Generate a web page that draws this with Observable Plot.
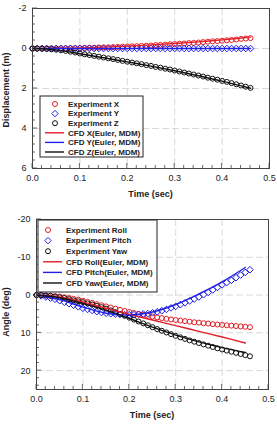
<!DOCTYPE html>
<html>
<head>
<meta charset="utf-8">
<script src="https://cdn.jsdelivr.net/npm/d3@7"></script>
<script src="https://cdn.jsdelivr.net/npm/@observablehq/plot@0.6"></script>
<style>
  body { margin: 0; background: #fff; width: 277px; height: 424px; overflow: hidden; }
  svg { display: block; }
</style>
</head>
<body>
<div id="displacement"></div>
<div id="angle"></div>
<script>
// Sample times of the measured motion (sec)
const timeExp = [
  0.00, 0.01, 0.02, 0.03, 0.04, 0.05, 0.06, 0.07, 0.08, 0.09,
  0.10, 0.11, 0.12, 0.13, 0.14, 0.15, 0.16, 0.17, 0.18, 0.19,
  0.20, 0.21, 0.22, 0.23, 0.24, 0.25, 0.26, 0.27, 0.28, 0.29,
  0.30, 0.31, 0.32, 0.33, 0.34, 0.35, 0.36, 0.37, 0.38, 0.39,
  0.40, 0.41, 0.42, 0.43, 0.44, 0.45, 0.46
];

// Measured displacement (m)
const expX = [
  0, 0, 0, 0, 0, -0.01, -0.01, -0.01, -0.02, -0.02,
  -0.02, -0.03, -0.04, -0.04, -0.05, -0.06, -0.06, -0.07, -0.08, -0.09,
  -0.10, -0.11, -0.12, -0.13, -0.14, -0.15, -0.17, -0.18, -0.19, -0.21,
  -0.22, -0.24, -0.25, -0.27, -0.28, -0.30, -0.32, -0.34, -0.36, -0.37,
  -0.39, -0.41, -0.43, -0.45, -0.48, -0.50, -0.52
];
const expY = [
  0, 0, 0, 0, 0, 0, 0, 0, 0, 0,
  0, 0, 0, 0, 0, 0, 0, 0, 0, 0,
  0, 0, 0, 0, 0, 0, 0, 0, 0, 0,
  0, 0, 0, 0, 0, 0, 0, 0, 0, 0,
  0, 0, 0, 0, 0, 0, 0
];
const expZ = [
  0, 0, 0.01, 0.02, 0.04, 0.06, 0.09, 0.12, 0.16, 0.20,
  0.25, 0.29, 0.33, 0.37, 0.41, 0.45, 0.49, 0.53, 0.57, 0.62,
  0.66, 0.70, 0.74, 0.78, 0.83, 0.87, 0.92, 0.96, 1.01, 1.05,
  1.10, 1.15, 1.20, 1.25, 1.30, 1.35, 1.40, 1.46, 1.51, 1.56,
  1.62, 1.67, 1.73, 1.79, 1.85, 1.91, 1.97
];

// CFD displacement (m)
const timeCfdDisp = [0, 0.05, 0.10, 0.15, 0.20, 0.25, 0.30, 0.35, 0.40, 0.46];
const cfdX = [0, -0.01, -0.03, -0.07, -0.12, -0.18, -0.25, -0.33, -0.43, -0.57];
const cfdY = [0, 0, 0, 0, 0, 0, 0, 0, 0, 0];
const cfdZ = [0, 0.07, 0.26, 0.46, 0.67, 0.88, 1.11, 1.36, 1.63, 1.99];

// Measured angles (deg)
const expRoll = [
  0, 0, 0.1, 0.2, 0.3, 0.4, 0.6, 0.8, 1.0, 1.2,
  1.5, 1.8, 2.1, 2.4, 2.7, 3.0, 3.3, 3.6, 3.9, 4.2,
  4.5, 4.75, 5.0, 5.25, 5.5, 5.7, 5.9, 6.1, 6.3, 6.45,
  6.6, 6.75, 6.9, 7.05, 7.2, 7.3, 7.45, 7.55, 7.7, 7.8,
  7.9, 8.0, 8.1, 8.2, 8.3, 8.4, 8.5
];
const expPitch = [
  0, 0.2, 0.5, 0.8, 1.1, 1.5, 1.9, 2.3, 2.7, 3.1,
  3.5, 3.8, 4.1, 4.4, 4.6, 4.8, 4.95, 5.05, 5.15, 5.2,
  5.2, 5.2, 5.1, 5.0, 4.9, 4.7, 4.45, 4.15, 3.8, 3.4,
  3.0, 2.55, 2.05, 1.55, 1.05, 0.5, -0.1, -0.7, -1.35, -2.0,
  -2.7, -3.3, -3.9, -4.6, -5.3, -6.0, -6.7
];
const expYaw = [
  0, 0, 0.1, 0.2, 0.4, 0.6, 0.8, 1.1, 1.4, 1.65,
  1.9, 2.2, 2.5, 2.85, 3.2, 3.6, 4.05, 4.5, 5.0, 5.5,
  6.0, 6.5, 7.0, 7.5, 8.0, 8.5, 9.0, 9.45, 9.9, 10.35,
  10.8, 11.2, 11.6, 12.0, 12.35, 12.7, 13.05, 13.4, 13.75, 14.1,
  14.4, 14.7, 15.0, 15.3, 15.6, 15.9, 16.2
];

// CFD angles (deg)
const timeCfdAngle = [0, 0.05, 0.10, 0.15, 0.20, 0.25, 0.30, 0.35, 0.40, 0.45];
const cfdRoll = [0, 0.5, 1.8, 3.5, 5.1, 6.6, 8.1, 9.6, 11.1, 12.7];
const cfdPitch = [0, 1.2, 3.2, 4.8, 5.3, 4.5, 2.5, -0.3, -3.5, -7.3];
const cfdYaw = [0, 0.7, 2.2, 4.0, 6.2, 8.5, 10.6, 12.4, 13.9, 15.2];

// Axis ticks
const timeTicks = [0, 0.1, 0.2, 0.3, 0.4, 0.5];
const dispTicks = [-2, 0, 2, 4, 6];
const angleTicks = [-20, -10, 0, 10, 20];

const RED = "#e41e26", BLUE = "#2020e6", BLACK = "#111";
const FONT = "Liberation Sans, Arial, sans-serif";

function rows(ts, vs) { return ts.map((t, i) => ({t, v: vs[i]})); }

function panel({el, yDomain, yTicks, yMinorStep, margin, exp, cfd, yTitle, yTitleY, xTitleY, legend}) {
  const W = 277, H = 212;
  const marks = [
    Plot.ruleX(timeTicks, {stroke: "#cfcfcf", strokeDasharray: "7,3", strokeWidth: 0.8}),
    Plot.ruleY(yTicks, {stroke: "#cfcfcf", strokeDasharray: "7,3", strokeWidth: 0.8}),
    Plot.axisX(timeTicks, {tickSize: 0, tickPadding: margin.xPad, tickFormat: d3.format(".1f"),
      fontSize: 9, fill: "#222", label: null}),
    Plot.axisY(yTicks, {tickSize: 0, tickPadding: margin.yPad, tickFormat: d => `${d}`,
      fontSize: 9, fill: "#222", label: null}),
  ];
  for (const s of exp) {
    marks.push(Plot.dot(rows(timeExp, s.values), {x: "t", y: "v", stroke: s.color, fill: "none",
      strokeWidth: 1, symbol: s.symbol, r: s.symbol === "circle" ? 2.5 : 3}));
  }
  for (const s of cfd) {
    marks.push(Plot.line(rows(s.time, s.values), {x: "t", y: "v", stroke: s.color,
      strokeWidth: 1.4, curve: "catmull-rom"}));
  }
  marks.push(Plot.frame({stroke: "#444", strokeWidth: 1}));

  const chart = Plot.plot({
    width: W, height: H,
    marginTop: margin.top, marginRight: margin.right, marginBottom: margin.bottom, marginLeft: margin.left,
    style: {fontFamily: FONT, background: "#fff"},
    x: {domain: [0, 0.5], axis: null},
    y: {domain: yDomain, axis: null},
    marks
  });

  const svg = d3.select(chart);
  const sx = chart.scale("x"), sy = chart.scale("y");
  const x0 = margin.left, x1 = W - margin.right, yB = H - margin.bottom;

  // inward tick marks on the bottom and left edges
  const g = svg.append("g").attr("stroke", "#444").attr("stroke-width", 0.8);
  for (const t of d3.range(0, 0.5001, 0.02)) {
    const major = timeTicks.some(m => Math.abs(m - t) < 1e-6);
    const px = sx.apply(t);
    g.append("line").attr("x1", px).attr("x2", px).attr("y1", yB).attr("y2", yB - (major ? 5 : 3));
  }
  const lo = Math.min(...yDomain), hi = Math.max(...yDomain);
  for (let v = lo; v <= hi + 1e-6; v += yMinorStep) {
    const major = yTicks.some(m => Math.abs(m - v) < 1e-6);
    const py = sy.apply(v);
    g.append("line").attr("x1", x0).attr("x2", x0 + (major ? 5 : 3)).attr("y1", py).attr("y2", py);
  }

  // axis titles
  svg.append("text").attr("x", (x0 + x1) / 2).attr("y", xTitleY).attr("text-anchor", "middle")
    .attr("font-family", FONT).attr("font-size", 9).attr("font-weight", "bold").attr("fill", "#222")
    .text("Time (sec)");
  svg.append("text").attr("transform", `translate(9,${yTitleY}) rotate(-90)`).attr("text-anchor", "middle")
    .attr("font-family", FONT).attr("font-size", 9).attr("font-weight", "bold").attr("fill", "#222")
    .text(yTitle);

  // legend box
  const L = svg.append("g").attr("text-anchor", "start");
  L.append("rect").attr("x", legend.x).attr("y", legend.y).attr("width", legend.w).attr("height", legend.h)
    .attr("fill", "#fff").attr("stroke", "#222").attr("stroke-width", 1);
  const entries = [
    ...exp.map(s => ({label: s.label, color: s.color, symbol: s.symbol})),
    ...cfd.map(s => ({label: s.label, color: s.color, line: true}))
  ];
  entries.forEach((e, i) => {
    const cy = legend.y + legend.first + i * legend.step;
    const cx = legend.x + legend.sym;
    if (e.line) {
      L.append("line").attr("x1", legend.x + legend.line[0]).attr("x2", legend.x + legend.line[1])
        .attr("y1", cy).attr("y2", cy)
        .attr("stroke", e.color).attr("stroke-width", 1.4);
    } else if (e.symbol === "circle") {
      L.append("circle").attr("cx", cx).attr("cy", cy).attr("r", 2.5)
        .attr("fill", "none").attr("stroke", e.color).attr("stroke-width", 1);
    } else {
      L.append("path").attr("d", `M${cx},${cy - 3.2}L${cx + 3.2},${cy}L${cx},${cy + 3.2}L${cx - 3.2},${cy}Z`)
        .attr("fill", "none").attr("stroke", e.color).attr("stroke-width", 1);
    }
    L.append("text").attr("x", legend.x + legend.text).attr("y", cy).attr("dy", "0.35em")
      .attr("text-anchor", "start")
      .attr("font-family", FONT).attr("font-size", 8).attr("font-weight", "bold").attr("fill", "#222")
      .text(e.label);
  });

  document.getElementById(el).appendChild(chart);
}

panel({
  el: "displacement",
  yDomain: [6, -2], yTicks: dispTicks, yMinorStep: 0.4,
  margin: {top: 8, right: 8, bottom: 44, left: 32, xPad: 6, yPad: 6},
  yTitle: "Displacement (m)", yTitleY: 90, xTitleY: 197,
  exp: [
    {label: "Experiment X", values: expX, color: RED, symbol: "circle"},
    {label: "Experiment Y", values: expY, color: BLUE, symbol: "diamond2"},
    {label: "Experiment Z", values: expZ, color: BLACK, symbol: "circle"}
  ],
  cfd: [
    {label: "CFD X(Euler, MDM)", time: timeCfdDisp, values: cfdX, color: RED},
    {label: "CFD Y(Euler, MDM)", time: timeCfdDisp, values: cfdY, color: BLUE},
    {label: "CFD Z(Euler, MDM)", time: timeCfdDisp, values: cfdZ, color: BLACK}
  ],
  legend: {x: 40, y: 96, w: 103, h: 61, first: 8, step: 9.6, sym: 15, line: [5, 24], text: 28}
});

panel({
  el: "angle",
  yDomain: [25, -20], yTicks: angleTicks, yMinorStep: 2,
  margin: {top: 7, right: 9, bottom: 35, left: 36, xPad: 6, yPad: 6},
  yTitle: "Angle (deg)", yTitleY: 100, xTitleY: 206,
  exp: [
    {label: "Experiment Roll", values: expRoll, color: RED, symbol: "circle"},
    {label: "Experiment Pitch", values: expPitch, color: BLUE, symbol: "diamond2"},
    {label: "Experiment Yaw", values: expYaw, color: BLACK, symbol: "circle"}
  ],
  cfd: [
    {label: "CFD Roll(Euler, MDM)", time: timeCfdAngle, values: cfdRoll, color: RED},
    {label: "CFD Pitch(Euler, MDM)", time: timeCfdAngle, values: cfdPitch, color: BLUE},
    {label: "CFD Yaw(Euler, MDM)", time: timeCfdAngle, values: cfdYaw, color: BLACK}
  ],
  legend: {x: 38, y: 8, w: 119, h: 72, first: 10, step: 10.6, sym: 10, line: [5, 24], text: 28}
});
</script>
</body>
</html>
